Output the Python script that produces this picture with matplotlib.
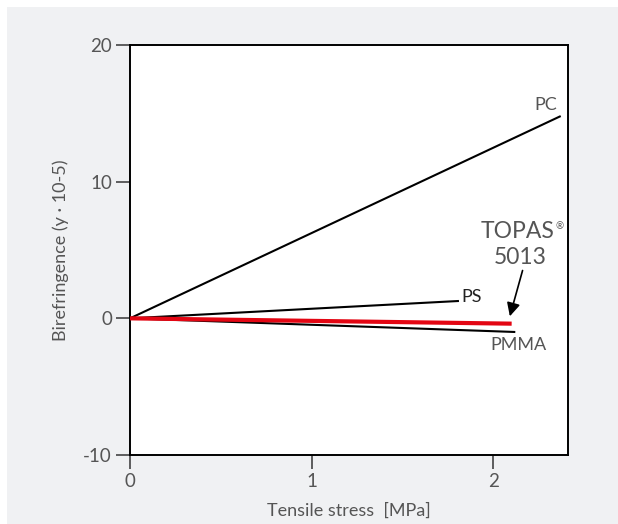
import matplotlib
matplotlib.use("Agg")
import matplotlib.pyplot as plt
from matplotlib.patches import Rectangle

# Data (stress in MPa, birefringence in 1e-5)
materials = ["PC", "PS", "TOPAS 5013", "PMMA"]
stress_end = [2.37, 1.81, 2.10, 2.12]
biref_end = [14.8, 1.27, -0.39, -1.0]
line_colors = ["black", "black", "#e30613", "black"]
line_widths = [1.5, 1.5, 3.0, 1.5]

x_ticks = [0, 1, 2]
y_ticks = [-10, 0, 10, 20]

plt.rcParams["font.family"] = ["Lato", "DejaVu Sans"]
plt.rcParams["axes.unicode_minus"] = False
text_color = "#555555"

fig = plt.figure(figsize=(6.18, 5.24), dpi=100)
fig.patch.set_facecolor("white")
fig.patches.append(Rectangle((7 / 618, 0), 611 / 618, 517 / 524,
                             transform=fig.transFigure, facecolor="#f0f1f3",
                             edgecolor="none", zorder=-1))

ax = fig.add_axes([130 / 618, 69 / 524, 438 / 618, 410 / 524])
ax.set_zorder(1)
ax.set_facecolor("white")

# each line starts at the origin
for name, xe, ye, c, lw in zip(materials, stress_end, biref_end, line_colors, line_widths):
    ax.plot([0, xe], [0, ye], color=c, lw=lw, solid_capstyle="butt", zorder=3 if c != "black" else 2)

# line labels
ax.text(2.286, 15.6, "PC", color=text_color, fontsize=13, ha="center", va="center")
ax.text(1.824, 1.56, "PS", color="#222222", fontsize=13, ha="left", va="center")
ax.text(2.14, -1.98, "PMMA", color=text_color, fontsize=13, ha="center", va="center")
topas = ax.text(2.13, 6.37, "TOPAS", color=text_color, fontsize=16.5, ha="center", va="center")
ax.annotate("\u00ae", xy=(1, 1), xycoords=topas, xytext=(1, -1), textcoords="offset points",
            color=text_color, fontsize=7, ha="left", va="top")
ax.text(2.147, 4.47, "5013", color=text_color, fontsize=16.5, ha="center", va="center")
ax.annotate("", xy=(2.09, 0.15), xytext=(2.16, 3.5),
            arrowprops=dict(arrowstyle="-|>", color="black", lw=1.2,
                            mutation_scale=20, shrinkA=0, shrinkB=0))

ax.set_xlim(0, 2.41)
ax.set_ylim(-10, 20)
ax.set_xticks(x_ticks)
ax.set_yticks(y_ticks)
ax.tick_params(direction="out", length=10, width=1.2, colors="#444444",
               labelcolor=text_color, labelsize=13.5, pad=3)
for s in ax.spines.values():
    s.set_linewidth(1.4)
    s.set_color("black")

ax.set_xlabel("Tensile stress  [MPa]", color=text_color, fontsize=13, labelpad=9)
ax.set_ylabel("Birefringence (y \u00b7 10-5)", color=text_color, fontsize=13, labelpad=10)

fig.savefig("out.png", dpi=100)
